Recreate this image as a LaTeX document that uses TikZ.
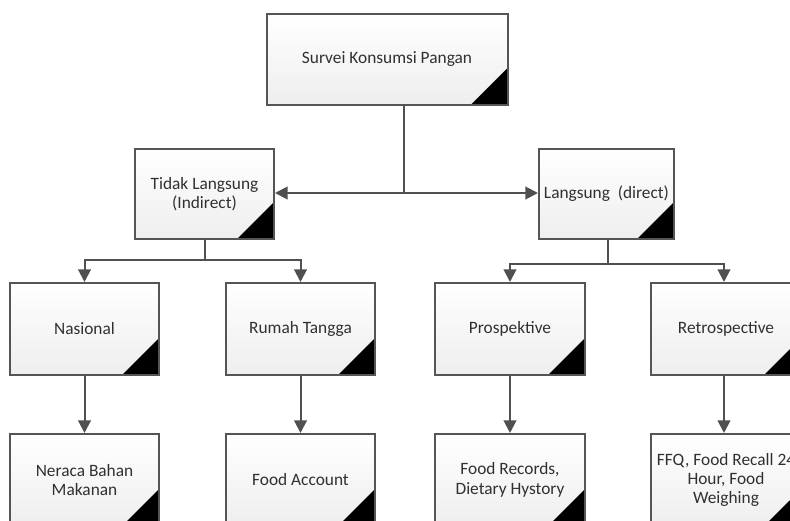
\documentclass[tikz,border=0pt]{standalone}
\usepackage{fontspec}
\setmainfont{Carlito}
\usetikzlibrary{arrows.meta}
\definecolor{boxline}{HTML}{555555}
\definecolor{conline}{HTML}{505050}
\definecolor{txt}{HTML}{303030}
\definecolor{boxbot}{HTML}{EEEEEE}
\tikzset{
  card/.style={draw=boxline, line width=1.5pt, top color=white, bottom color=boxbot,
    align=center, inner sep=2pt, text=txt,
    font=\fontsize{13pt}{14.5pt}\selectfont,
    path picture={\fill[black] (path picture bounding box.south east) -- ++(-37,0) -- ++(37,-37) -- cycle;}},
  conn/.style={draw=conline, line width=1.5pt},
  arr/.style={conn, -{Triangle[length=9.5pt,width=9.5pt]}},
}
\begin{document}
\begin{tikzpicture}[x=0.75pt,y=-0.75pt]
\useasboundingbox (0,0) rectangle (790,521);
\clip (0,0) rectangle (790,521);
\node[card, minimum width=241*0.75pt, minimum height=91*0.75pt] (top) at (387,59.5) {Survei Konsumsi Pangan};
\node[card, minimum width=139*0.75pt, minimum height=90*0.75pt] (tl) at (204.5,194) {Tidak Langsung\\(Indirect)};
\node[card, minimum width=135*0.75pt, minimum height=90*0.75pt] (ld) at (606.5,194) {Langsung\ \ (direct)};
\node[card, minimum width=149*0.75pt, minimum height=92*0.75pt] (nas) at (84.5,329) {Nasional};
\node[card, minimum width=149*0.75pt, minimum height=92*0.75pt] (rt) at (300.5,329) {Rumah Tangga};
\node[card, minimum width=150*0.75pt, minimum height=92*0.75pt] (pro) at (510,329) {Prospektive};
\node[card, minimum width=150*0.75pt, minimum height=92*0.75pt] (ret) at (726,329) {Retrospective};
\node[card, minimum width=149*0.75pt, minimum height=92*0.75pt] (ner) at (84.5,480) {Neraca Bahan\\Makanan};
\node[card, minimum width=149*0.75pt, minimum height=92*0.75pt] (fa) at (300.5,480) {Food Account};
\node[card, minimum width=150*0.75pt, minimum height=92*0.75pt] (fr) at (510,480) {Food Records,\\Dietary Hystory};
\node[card, minimum width=150*0.75pt, minimum height=92*0.75pt] (ffq) at (726,480) {FFQ, Food Recall 24\\Hour, Food\\Weighing};
% top junction
\coordinate (ts) at (404,105);
\coordinate (j1) at (404,193);
\draw[conn] (ts) -- (j1);
\draw[arr] (j1) -- (tl.east |- j1);
\draw[arr] (j1) -- (ld.west |- j1);
% left branch
\coordinate (b1) at (205,260);
\draw[conn] (tl.south -| b1) -- (b1);
\draw[arr] (b1) -| (nas.north);
\draw[arr] (b1) -| (rt.north);
% right branch
\coordinate (b2) at (608,264);
\draw[conn] (ld.south -| b2) -- (b2);
\draw[arr] (b2) -| (pro.north);
\draw[arr] (b2) -| ([xshift=-1.5pt]ret.north);
% verticals
\draw[arr] (nas.south) -- (ner.north);
\draw[arr] (rt.south) -- (fa.north);
\draw[arr] (pro.south) -- (fr.north);
\draw[arr] ([xshift=-1.5pt]ret.south) -- ([xshift=-1.5pt]ffq.north);
\end{tikzpicture}
\end{document}
